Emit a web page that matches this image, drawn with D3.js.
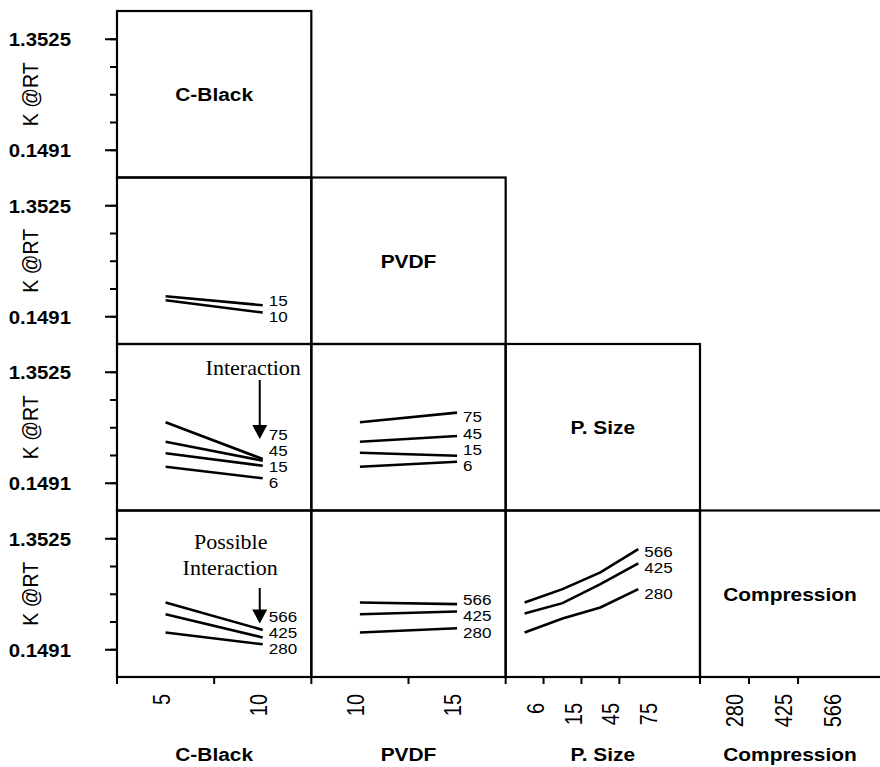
<!DOCTYPE html>
<html>
<head>
<meta charset="utf-8">
<script src="https://cdn.jsdelivr.net/npm/d3@7"></script>
<style>
  body { margin: 0; background: #fff; }
  svg { display: block; }
</style>
</head>
<body>
<svg id="chart" width="880" height="767"></svg>
<script>
const factors = ["C-Black", "PVDF", "P. Size", "Compression"];
const cBlackLevels = ["5", "10"];
const pvdfLevels = ["10", "15"];
const pSizeLevels = ["6", "15", "45", "75"];
const compressionLevels = ["280", "425", "566"];
const levels = [cBlackLevels, pvdfLevels, pSizeLevels, compressionLevels];

const yTickLow = 0.1491;
const yTickHigh = 1.3525;
const yTitle = "K @RT";

// one row per trace level (row factor), one value per x level (column factor)
const pvdfByCBlack = [[0.323, 0.189], [0.366, 0.268]];
const pSizeByCBlack = [[0.323, 0.197], [0.468, 0.334], [0.594, 0.388], [0.805, 0.406]];
const pSizeByPvdf = [[0.323, 0.377], [0.475, 0.442], [0.594, 0.656], [0.805, 0.909]];
const compByCBlack = [[0.330, 0.203], [0.529, 0.276], [0.656, 0.359]];
const compByPvdf = [[0.330, 0.377], [0.529, 0.558], [0.656, 0.638]];
const compByPSize = [[0.330, 0.482, 0.602, 0.801], [0.537, 0.649, 0.855, 1.080], [0.656, 0.801, 0.982, 1.235]];

const panels = [
  { row: 1, col: 0, values: pvdfByCBlack },
  { row: 2, col: 0, values: pSizeByCBlack },
  { row: 2, col: 1, values: pSizeByPvdf },
  { row: 3, col: 0, values: compByCBlack },
  { row: 3, col: 1, values: compByPvdf },
  { row: 3, col: 2, values: compByPSize }
];

const W = 880;
const gridLeft = 117, gridTop = 11, gridBottom = 677, colW = 194.33;
const sans = "'Liberation Sans', Arial, Helvetica, sans-serif";
const serif = "'Liberation Serif', 'Times New Roman', serif";

const svg = d3.select("#chart");

function addText(g, x, y, str, o = {}) {
  return g.append("text")
    .attr("transform", `translate(${x},${y}) scale(${o.sx || 1.1},1)${o.rotate ? " rotate(-90)" : ""}`)
    .attr("text-anchor", o.anchor || "middle")
    .attr("dy", o.dy || 0)
    .style("font-family", o.family || sans)
    .style("font-size", (o.size || 16) + "px")
    .style("font-weight", o.bold ? "bold" : "normal")
    .text(str);
}

const colBand = d3.scaleBand().domain(d3.range(4)).range([gridLeft, gridLeft + 4 * colW]);
const rowBand = d3.scaleBand().domain(d3.range(4)).range([gridTop, gridBottom]);
const rowH = rowBand.bandwidth();
const visW = c => Math.min(colW, W - colBand(c));

const xSpan = [1, 1, 0.78, 0.757];
const xScales = levels.map((lv, j) =>
  d3.scalePoint().domain(lv).range([colBand(j), colBand(j) + colW * xSpan[j]]).padding(0.5));

const yStep = (yTickHigh - yTickLow) / 4;
const yTicks = d3.range(5).map(i => yTickLow + i * yStep);
const yScales = d3.range(4).map(r =>
  d3.scaleLinear().domain([yTickLow - yStep, yTickHigh + yStep]).range([rowBand(r) + rowH, rowBand(r)]));

// cells (staircase)
for (let r = 0; r < 4; r++) {
  for (let c = 0; c <= r; c++) {
    svg.append("rect")
      .attr("x", colBand(c)).attr("y", rowBand(r))
      .attr("width", colW).attr("height", rowH)
      .attr("fill", "none").attr("stroke", "#000").attr("stroke-width", 2.2);
  }
  addText(svg, colBand(r) + visW(r) / 2, rowBand(r) + rowH / 2 + 7, factors[r], { bold: true, size: 19 });
}

// y axes
yScales.forEach((ys, r) => {
  const minor = svg.append("g").attr("transform", `translate(${gridLeft},0)`)
    .call(d3.axisLeft(ys).tickValues(yTicks).tickSize(7).tickFormat(""));
  const major = svg.append("g").attr("transform", `translate(${gridLeft},0)`)
    .call(d3.axisLeft(ys).tickValues([yTickLow, yTickHigh]).tickSize(12).tickFormat(""));
  [minor, major].forEach(a => {
    a.select(".domain").remove();
    a.selectAll("line").attr("stroke", "#000").attr("stroke-width", 2);
  });
  [yTickLow, yTickHigh].forEach(v =>
    addText(svg, gridLeft - 46, ys(v), d3.format(".4f")(v), { anchor: "end", bold: true, size: 18.5, dy: "0.4em" }));
  addText(svg, 38, rowBand(r) + rowH / 2, yTitle, { rotate: true, size: 19.5, sx: 1.12 });
});

// interaction plots
panels.forEach(p => {
  const xs = xScales[p.col];
  const xl = levels[p.col];
  const ys = yScales[p.row];
  const traceLevels = levels[p.row];
  const g = svg.append("g");
  const line = d3.line().x((d, i) => xs(xl[i])).y(d => ys(d));

  g.selectAll("path.trace").data(p.values).enter().append("path")
    .attr("class", "trace")
    .attr("d", line)
    .attr("fill", "none").attr("stroke", "#000").attr("stroke-width", 2.6);

  // stack end labels from the bottom up, at least 16px apart
  const ends = p.values.map(v => ys(v[v.length - 1]));
  const order = d3.range(ends.length).sort((a, b) => ends[b] - ends[a]);
  const labelY = [];
  let prev = Infinity;
  order.forEach(i => {
    const y = Math.min(ends[i] + 4, prev - 16);
    labelY[i] = y;
    prev = y;
  });
  const lx = xs(xl[xl.length - 1]) + 6;
  traceLevels.forEach((lv, i) =>
    addText(g, lx, labelY[i], lv, { anchor: "start", size: 15.5, dy: "0.36em" }));
});

// annotations
function arrow(x, y1, y2) {
  svg.append("line").attr("x1", x).attr("x2", x).attr("y1", y1).attr("y2", y2 - 12)
    .attr("stroke", "#000").attr("stroke-width", 2);
  svg.append("path")
    .attr("d", `M${x - 7.5},${y2 - 14}L${x + 7.5},${y2 - 14}L${x},${y2}Z`)
    .attr("fill", "#000");
}
const arrowX = xScales[0]("10") - 3;
addText(svg, arrowX - 6.5, rowBand(2) + 31, "Interaction", { family: serif, size: 20 });
arrow(arrowX, rowBand(2) + 36, rowBand(2) + 95);
addText(svg, arrowX - 29, rowBand(3) + 38, "Possible", { family: serif, size: 20 });
addText(svg, arrowX - 29.5, rowBand(3) + 64.5, "Interaction", { family: serif, size: 20 });
arrow(arrowX, rowBand(3) + 77.5, rowBand(3) + 113);

// bottom axis ticks: column edges and boundaries between levels
const tickX = [];
levels.forEach((lv, j) => {
  tickX.push(colBand(j));
  const xs = xScales[j];
  for (let i = 1; i < lv.length; i++) tickX.push((xs(lv[i - 1]) + xs(lv[i])) / 2);
});
svg.append("g").selectAll("line").data(tickX).enter().append("line")
  .attr("x1", d => d).attr("x2", d => d)
  .attr("y1", gridBottom).attr("y2", gridBottom + 7)
  .attr("stroke", "#000").attr("stroke-width", 2);

const labelDx = [4, 4, 19, 18];
const labelDy = [0, 0, 9, 0];
levels.forEach((lv, j) => {
  const xs = xScales[j];
  lv.forEach(l =>
    addText(svg, xs(l) + labelDx[j], gridBottom + 17 + labelDy[j], l, { rotate: true, anchor: "end", size: 20, sx: 1.15 }));
  addText(svg, colBand(j) + visW(j) / 2, 761, factors[j], { bold: true, size: 19 });
});
</script>
</body>
</html>
